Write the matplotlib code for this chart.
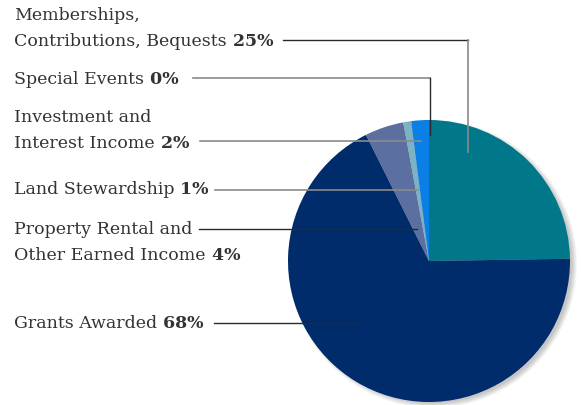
import matplotlib
matplotlib.use('Agg')
import matplotlib.pyplot as plt
from matplotlib.patches import Circle

# slice order runs clockwise from 12 o'clock
names = ["Memberships,\nContributions, Bequests", "Grants Awarded",
         "Property Rental and\nOther Earned Income", "Land Stewardship",
         "Investment and\nInterest Income", "Special Events"]
shares = [24.5, 67.2, 4.4, 0.9, 2.0, 0.0]
pct_labels = ["25%", "68%", "4%", "1%", "2%", "0%"]
colors = ["#00788a", "#002c6c", "#5b6fa0", "#7bb3c4", "#0a7fe6", "#0a7fe6"]

W, H = 582, 405
fig = plt.figure(figsize=(W / 100, H / 100), dpi=100)
ax = fig.add_axes([0, 0, 1, 1])

cx, cy, r = 429, H - 261, 141

# soft drop shadow, mostly to the lower right
for i in range(6):
    ax.add_patch(Circle((cx + 4, cy - 3), r - 2 + i * 1.0, color="black",
                        alpha=0.04, lw=0, zorder=0))

ax.pie(shares, colors=colors, startangle=90, counterclock=False,
       center=(cx, cy), radius=r, frame=True,
       wedgeprops=dict(linewidth=0, zorder=1))

ax.set_xlim(0, W)
ax.set_ylim(0, H)
ax.set_aspect('equal')
ax.axis('off')

text_color = "#333333"
font = "DejaVu Serif"
fs = 12.5

# label: index -> y of last line center in px
label_pos = {0: 42, 5: 79, 4: 143, 3: 190, 2: 255, 1: 324}
for idx, ypx in label_pos.items():
    lines = names[idx].split("\n")
    for k, line in enumerate(lines):
        yy = ypx - (len(lines) - 1 - k) * 26
        t = ax.text(14, H - yy, line, fontsize=fs, family=font, color=text_color,
                    va='center', ha='left')
    ax.annotate(" " + pct_labels[idx], xy=(1, 0.5), xycoords=t, va='center',
                ha='left', fontsize=fs, family=font, fontweight='bold',
                color=text_color)

dark, grey = "#2a2a2a", "#8a8a8a"
# leader lines in pixel coordinates
ax.plot([283, 468], [H - 40, H - 40], color=dark, lw=1)
ax.plot([468, 468], [H - 40, H - 152], color=grey, lw=1.2)
ax.plot([193, 430], [H - 78, H - 78], color=grey, lw=1.2)
ax.plot([430, 430], [H - 78, H - 135], color=dark, lw=1)
ax.plot([200, 421], [H - 141, H - 141], color=grey, lw=1.2)
ax.plot([215, 418], [H - 190, H - 190], color=grey, lw=1.2)
ax.plot([199, 417], [H - 229, H - 229], color=dark, lw=1)
ax.plot([214, 359], [H - 323, H - 323], color=dark, lw=1)

fig.savefig("out.png", dpi=100)
